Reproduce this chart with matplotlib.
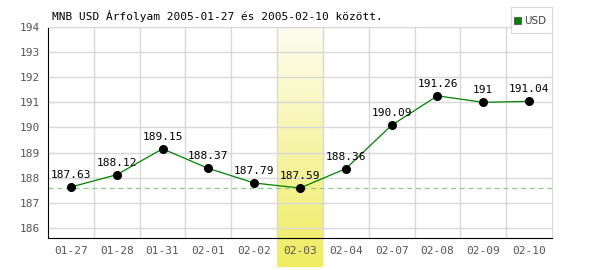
import numpy as np
import matplotlib.pyplot as plt

dates = ['01-27', '01-28', '01-31', '02-01', '02-02', '02-03',
         '02-04', '02-07', '02-08', '02-09', '02-10']
rates = [187.63, 188.12, 189.15, 188.37, 187.79, 187.59,
         188.36, 190.09, 191.26, 191.0, 191.04]
rate_labels = ['187.63', '188.12', '189.15', '188.37', '187.79', '187.59',
               '188.36', '190.09', '191.26', '191', '191.04']
highlight = 5

W, H = 600, 270
fig = plt.figure(figsize=(W / 100, H / 100), dpi=100)

# plot area in pixels
x0, x1, y0, y1 = 48, 552, 27, 238
n = len(dates)
slot = (x1 - x0) / n

# yellow gradient band behind the highlighted day (reaches below the axis)
band = fig.add_axes([(x0 + slot * highlight) / W, 3 / H, slot / W, (y1 - y0 + 29) / H])
grad = np.linspace(0, 1, 256).reshape(-1, 1)
from matplotlib.colors import LinearSegmentedColormap
cmap = LinearSegmentedColormap.from_list('yel', ['#fdfdf0', '#f0ec60'])
band.imshow(grad, aspect='auto', cmap=cmap, extent=[0, 1, 0, 1], origin='upper')
band.axis('off')

ax = fig.add_axes([x0 / W, 1 - y1 / H, (x1 - x0) / W, (y1 - y0) / H])
ax.patch.set_alpha(0)
x = np.arange(n)
ax.set_xlim(-0.5, n - 0.5)
ax.set_ylim(185.6, 194)

ax.set_yticks(range(186, 195))
ax.set_xticks(x)
ax.set_xticklabels(dates)
ax.set_xticks(np.arange(0.5, n - 0.5), minor=True)
ax.grid(True, which='minor', axis='x', color='#d8d8d8', lw=1)
ax.grid(True, which='major', axis='y', color='#d8d8d8', lw=1)
ax.tick_params(which='both', length=0, labelsize=8, colors='#555555', pad=6)
for lab in ax.get_xticklabels() + ax.get_yticklabels():
    lab.set_family('DejaVu Sans Mono')

ax.spines['left'].set_color('black')
ax.spines['bottom'].set_color('black')
ax.spines['top'].set_color('#d8d8d8')
ax.spines['right'].set_color('#d8d8d8')

ax.axhline(min(rates), color='#88cc88', lw=0.9, ls=(0, (4, 3)))
ax.plot(x, rates, color='green', lw=0.9, zorder=3)
ax.plot(x, rates, 'o', color='black', ms=5.5, zorder=4)
for xi, v, lab in zip(x, rates, rate_labels):
    ax.annotate(lab, (xi, v), xytext=(0, 5), textcoords='offset points',
                ha='center', va='bottom', fontsize=8, family='DejaVu Sans Mono',
                zorder=5)

fig.text(52 / W, 1 - 16 / H, 'MNB USD Árfolyam 2005-01-27 és 2005-02-10 között.',
         fontsize=8, family='DejaVu Sans Mono', va='center', ha='left')

# legend box
leg = fig.add_axes([511 / W, 1 - 33 / H, 41 / W, 26 / H])
leg.set_xticks([]); leg.set_yticks([])
for s in leg.spines.values():
    s.set_color('#d8d8d8')
leg.set_xlim(0, 41); leg.set_ylim(0, 26)
leg.add_patch(plt.Rectangle((3, 9), 7, 7, facecolor='green', edgecolor='#555555', lw=0.6))
leg.text(13, 12.5, 'USD', fontsize=7.5, va='center', ha='left', color='#444444')

fig.savefig('out.png', dpi=100)
